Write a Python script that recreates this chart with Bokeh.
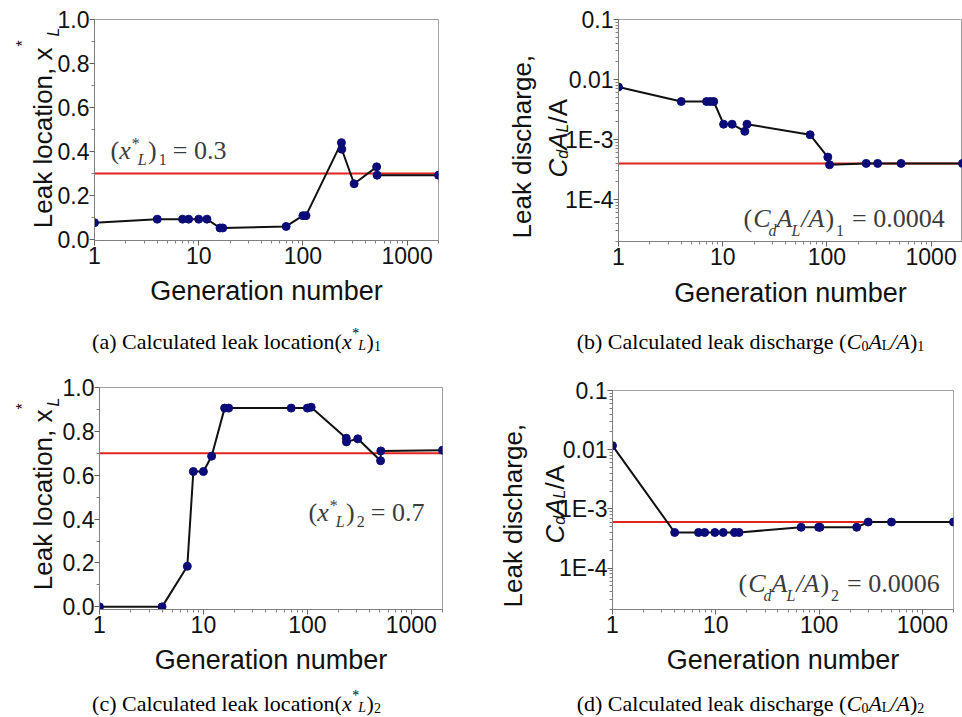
import math
from bokeh.plotting import figure
from bokeh.models import Label, Span, FixedTicker, Range1d, GridBox
from bokeh.embed import file_html
from bokeh.resources import INLINE

# ---------------- data ----------------
gen_a = [1, 4, 7, 8, 10, 12, 16, 17, 69, 100, 107, 234, 236, 310, 510, 515, 2000]
loc_a = [0.076, 0.092, 0.092, 0.092, 0.092, 0.092, 0.052, 0.052, 0.059, 0.108, 0.108,
         0.44, 0.41, 0.253, 0.33, 0.292, 0.292]
target_a = 0.3

gen_b = [1, 4, 7, 7.6, 8.2, 10.2, 12.3, 16.3, 17.1, 69, 102, 106, 238, 307, 515, 2000]
dis_b = [0.0075, 0.0043, 0.0043, 0.0043, 0.0043, 0.0018, 0.0018, 0.00137, 0.0018, 0.0012,
         0.00051, 0.00038, 0.0004, 0.0004, 0.0004, 0.0004]
target_b = 0.0004

gen_c = [1, 4, 7, 8, 10, 12, 16, 17.5, 70, 100, 109, 237, 238, 306, 507, 510, 2000]
loc_c = [0.0, 0.0, 0.185, 0.617, 0.617, 0.687, 0.906, 0.906, 0.906, 0.906, 0.91,
         0.769, 0.752, 0.766, 0.666, 0.711, 0.714]
target_c = 0.7

gen_d = [1, 4, 6.8, 7.8, 9.8, 11.8, 15.2, 16.8, 67, 99, 102, 231, 299, 502, 2000]
dis_d = [0.0117, 0.0004, 0.0004, 0.0004, 0.0004, 0.0004, 0.0004, 0.0004, 0.00049,
         0.00049, 0.00049, 0.00049, 0.0006, 0.0006, 0.0006]
target_d = 0.0006

x_ticks = [1, 10, 100, 1000]
x_tick_labels = ["1", "10", "100", "1000"]
lin_ticks = [0.0, 0.2, 0.4, 0.6, 0.8, 1.0]
lin_tick_labels = ["0.0", "0.2", "0.4", "0.6", "0.8", "1.0"]
lin_minor = [0.1, 0.3, 0.5, 0.7, 0.9]
log_ticks = [1e-4, 1e-3, 1e-2, 1e-1]
log_tick_labels = ["1E-4", "1E-3", "0.01", "0.1"]

x_minor = [m * 10 ** k for k in range(0, 4) for m in range(2, 10) if m * 10 ** k <= 2000]
log_minor = [m * 10.0 ** k for k in range(-5, -1) for m in range(2, 10)
             if 2e-5 <= m * 10.0 ** k <= 0.1]

# ---------------- panels ----------------
def make_panel(w, h, bl, br, bt, bb, ylog, yr, yt, ytl, yminor):
    p = figure(width=w, height=h, x_axis_type="log",
               y_axis_type="log" if ylog else "linear",
               x_range=Range1d(1, 2000), y_range=Range1d(*yr),
               output_backend="svg", toolbar_location=None,
               min_border_left=bl, min_border_right=br,
               min_border_top=bt, min_border_bottom=bb)
    p.frame_align = False
    p.xgrid.visible = False
    p.ygrid.visible = False
    p.outline_line_color = "#a0a0a0"
    p.outline_line_width = 1
    p.background_fill_color = "white"
    p.border_fill_color = "white"
    xa = p.xaxis[0]
    ya = p.yaxis[0]
    xa.ticker = FixedTicker(ticks=x_ticks, minor_ticks=x_minor)
    xa.major_label_overrides = dict(zip(x_ticks, x_tick_labels))
    ya.ticker = FixedTicker(ticks=yt, minor_ticks=yminor)
    ya.major_label_overrides = dict(zip(yt, ytl))
    for ax in (xa, ya):
        ax.axis_line_color = "#808080"
        ax.major_tick_line_color = "#606060"
        ax.minor_tick_line_color = "#808080"
        ax.major_tick_out = 5
        ax.major_tick_in = 0
        ax.minor_tick_out = 3
        ax.minor_tick_in = 0
        ax.major_label_text_font = "Liberation Sans"
        ax.major_label_text_font_size = "23px"
        ax.major_label_text_color = "#111111"
    xa.major_label_standoff = 1
    ya.major_label_standoff = 0
    return p


def draw(p, xs, ys, target):
    p.add_layout(Span(location=target, dimension="width", line_color="#e2231f",
                      line_width=2, level="underlay"))
    p.line(xs, ys, line_color="#111111", line_width=2)
    p.scatter(xs, ys, size=8, fill_color="#0c0c78", line_color="#0c0c78")


# the standalone page has no body margin: canvas pixels == page pixels
pA = make_panel(481, 358, 94, 43, 19, 118, False, (-0.005, 1.0), lin_ticks, lin_tick_labels, lin_minor)
pB = make_panel(481, 358, 137, 0, 19, 117, True, (2e-5, 0.1), log_ticks, log_tick_labels, log_minor)
pC = make_panel(481, 359, 99, 39, 29, 108, False, (-0.012, 1.0), lin_ticks, lin_tick_labels, lin_minor)
pD = make_panel(481, 359, 131, 9, 32, 108, True, (2e-5, 0.1), log_ticks, log_tick_labels, log_minor)

draw(pA, gen_a, loc_a, target_a)
draw(pB, gen_b, dis_b, target_b)
draw(pC, gen_c, loc_c, target_c)
draw(pD, gen_d, dis_d, target_d)

# ---------------- text layer (transparent, laid over the four panels) ----------------
OVW, OVH = 962, 717
ov = figure(width=OVW, height=OVH, x_range=Range1d(0, OVW), y_range=Range1d(0, OVH),
            output_backend="svg", toolbar_location=None,
            x_axis_location=None, y_axis_location=None,
            min_border_left=0, min_border_right=0, min_border_top=0, min_border_bottom=0)
ov.frame_align = False
ov.grid.visible = False
ov.outline_line_color = None
ov.background_fill_color = None
ov.border_fill_color = None
ov.background_fill_alpha = 0
ov.border_fill_alpha = 0

FONTS = {"serif": "Liberation Serif", "sans": "Liberation Sans"}
W = {
    ("serif", "normal"): {"(": .333, ")": .333, "a": .444, "b": .5, "c": .444, "d": .5, "e": .444,
                          "g": .5, "h": .5, "i": .278, "k": .5, "l": .278, "n": .5, "o": .5,
                          "r": .333, "s": .389, "t": .278, "u": .5, " ": .25, "C": .667,
                          "A": .722, "L": .611, ".": .25, "=": .564, "/": .278, "*": .5},
    ("serif", "italic"): {"x": .444, "C": .667, "A": .611, "L": .556, "d": .5, "/": .278},
    ("sans", "normal"): {"L": .556, "e": .556, "a": .556, "k": .5, " ": .278, "l": .222, "o": .556,
                         "c": .5, "t": .278, "i": .222, "n": .556, ",": .278, "x": .5, "d": .556,
                         "s": .5, "h": .556, "r": .333, "g": .556, "C": .722, "A": .667,
                         "/": .278, "*": .389},
}
W[("sans", "italic")] = W[("sans", "normal")]


def adv(text, fam, style, size):
    tbl = W.get((fam, style), W[(fam, "normal")])
    base = W[(fam, "normal")]
    return sum(tbl.get(ch, base.get(ch, 0.5)) for ch in text) * size


def put(px, py, text, fam, style, size, color, angle=0.0, align="left"):
    # px, py: page pixels from the top-left corner
    ov.add_layout(Label(x=px, y=OVH - py, x_units="data", y_units="data",
                        text=text, text_font=FONTS[fam], text_font_style=style,
                        text_font_size=f"{size}px", text_color=color,
                        text_align=align, text_baseline="alphabetic", angle=angle))


def seq(start, base, pieces, color, rotated=False):
    pos = start
    for text, fam, style, size, shift, gap in pieces:
        if rotated:
            put(base + shift, pos, text, fam, style, size, color, angle=math.pi / 2)
            pos -= adv(text, fam, style, size) + gap
        else:
            put(pos, base + shift, text, fam, style, size, color)
            pos += adv(text, fam, style, size) + gap


def seq_center(center, base, pieces, color):
    total = sum(adv(t, f, s, z) + g for t, f, s, z, sh, g in pieces) - pieces[-1][5]
    seq(center - total / 2.0, base, pieces, color)


ANN = "#3c3c3c"
TXT = "#111111"

# x axis titles
put(266, 290, "Generation number", "sans", "normal", 27, TXT, align="center")
put(790, 292, "Generation number", "sans", "normal", 27, TXT, align="center")
put(270.5, 659, "Generation number", "sans", "normal", 27, TXT, align="center")
put(782.5, 659, "Generation number", "sans", "normal", 27, TXT, align="center")


# y axis titles of the location panels: main text pinned at its end (top),
# the superscript and subscript placed where the reference shows them
def ylab_loc(end_y, star_y, sub_y):
    put(42, end_y, "Leak location, x", "sans", "normal", 26, TXT,
        angle=math.pi / 2, align="right")
    put(22, star_y, "*", "sans", "normal", 16, TXT, angle=math.pi / 2)
    put(53, sub_y, "L", "sans", "italic", 16, TXT, angle=math.pi / 2)


ylab_loc(47, 46, 36)
ylab_loc(409, 409, 406)

ylab_dis1 = [("Leak discharge,", "sans", "normal", 26, 0, 0)]
ylab_dis2 = [("C", "sans", "italic", 26, 0, 0),
             ("d", "sans", "italic", 16, 5, 0),
             ("A", "sans", "italic", 26, 0, 0),
             ("L", "sans", "italic", 16, 5, 0),
             ("/A", "sans", "normal", 26, 0, 0)]
seq(238, 521, ylab_dis1, TXT, rotated=True)
seq(177, 557, ylab_dis2, TXT, rotated=True)
seq(607, 512, ylab_dis1, TXT, rotated=True)
seq(543, 554, ylab_dis2, TXT, rotated=True)


# in-plot annotations
def ann_loc(k, val):
    return [("(", "serif", "normal", 26, 0, 0),
            ("x", "serif", "italic", 26, 0, 1),
            ("*", "serif", "normal", 16, -7, -2),
            ("L", "serif", "italic", 16, 9, 1.5),
            (")", "serif", "normal", 26, 0, 2),
            (k, "serif", "normal", 16, 9, 6),
            ("= " + val, "serif", "normal", 26, 0, 0)]


def ann_dis(k, val):
    return [("(", "serif", "normal", 26, 0, 1),
            ("C", "serif", "italic", 26, 0, -2),
            ("d", "serif", "italic", 16, 12, 0),
            ("A", "serif", "italic", 26, 0, -1),
            ("L", "serif", "italic", 16, 12, 1),
            ("/", "serif", "italic", 26, 0, 0),
            ("A", "serif", "italic", 26, 0, 1),
            (")", "serif", "normal", 26, 0, 2),
            (k, "serif", "normal", 16, 12, 8),
            ("= " + val, "serif", "normal", 26, 0, 0)]


seq(110, 150, ann_loc("1", str(target_a)), ANN)
seq(308, 512, ann_loc("2", str(target_c)), ANN)
seq(743, 218, ann_dis("1", f"{target_b:.4f}"), ANN)
seq(738, 583, ann_dis("2", f"{target_d:.4f}"), ANN)


# captions
def cap_loc(letter, k):
    return [(f"({letter}) Calculated leak location(", "serif", "normal", 22, 0, 0),
            ("x", "serif", "italic", 22, 0, 0.5),
            ("*", "serif", "normal", 14, -8, -1),
            ("L", "serif", "italic", 14, 4, 0.5),
            (")", "serif", "normal", 22, 0, 0),
            (k, "serif", "normal", 14, 4, 0)]


def cap_dis(letter, k):
    return [(f"({letter}) Calculated leak discharge (", "serif", "normal", 22, 0, 0),
            ("C", "serif", "italic", 22, 0, 0),
            ("0", "serif", "normal", 14, 4, 0),
            ("A", "serif", "italic", 22, 0, 0),
            ("L", "serif", "normal", 14, 4, 0),
            ("/A", "serif", "italic", 22, 0, 0),
            (")", "serif", "normal", 22, 0, 0),
            (k, "serif", "normal", 14, 4, 0)]


seq_center(236, 341, cap_loc("a", "1"), "#000000")
seq_center(750, 341, cap_dis("b", "1"), "#000000")
seq_center(236, 703, cap_loc("c", "2"), "#000000")
seq_center(750, 703, cap_dis("d", "2"), "#000000")

layout = GridBox(children=[(pA, 0, 0), (pB, 0, 1), (pC, 1, 0), (pD, 1, 1),
                           (ov, 0, 0, 2, 2)], spacing=0)
open("out.html", "w").write(file_html(layout, INLINE))
